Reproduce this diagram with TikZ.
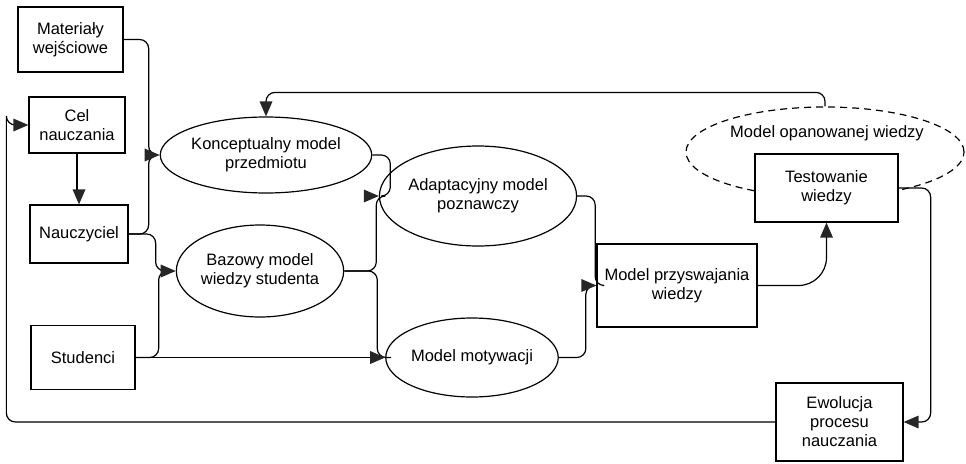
\documentclass[tikz,border=0pt]{standalone}
\usepackage{fontspec}
\setmainfont{Liberation Sans}
\usetikzlibrary{arrows.meta,shapes.geometric}
\begin{document}
\begin{tikzpicture}[x=1pt,y=-1pt,
  every node/.style={font=\fontsize{16.5}{19}\selectfont, align=center, inner sep=0pt},
  box/.style={draw, line width=1.3pt, rectangle, fill=white},
  ell/.style={draw, line width=1.2pt, ellipse},
  conn/.style={line width=1.2pt, rounded corners=9pt, shorten >=6pt},
  tipr/.style={fill=black!85, draw=none}]
\useasboundingbox (0,0) rectangle (966,463);
% nodes
\node[box, minimum width=105pt, minimum height=65pt] (mat) at (70.5,39.5) {Materiały\\wejściowe};
\node[box, minimum width=96pt, minimum height=56pt] (cel) at (77,125) {Cel\\nauczania};
\node[box, minimum width=98pt, minimum height=58pt] (nau) at (79,234) {Nauczyciel};
\node[box, minimum width=104pt, minimum height=64pt] (stu) at (83,357.5) {Studenci};
\node[ell, minimum width=188pt, minimum height=76pt] (kon) at (266,155) {Konceptualny model\\przedmiotu};
\node[ell, minimum width=156pt, minimum height=92pt] (baz) at (260,271) {Bazowy model\\wiedzy studenta};
\node[ell, minimum width=162pt, minimum height=100pt] (ada) at (478,196) {Adaptacyjny model\\poznawczy};
\node[ell, minimum width=141pt, minimum height=79pt] (mot) at (472,357.5) {Model motywacji};
\node[box, minimum width=160pt, minimum height=83pt] (prz) at (677,285.5) {Model przyswajania\\wiedzy};
\node[draw, line width=1.2pt, ellipse, dash pattern=on 7pt off 5pt, minimum width=278pt, minimum height=90pt] (mow) at (825,152) {};
\node (mowt) at (827,133) {Model opanowanej wiedzy};
\node[box, minimum width=143pt, minimum height=68pt] (tes) at (826.5,188) {Testowanie\\wiedzy};
\node[box, minimum width=127pt, minimum height=78pt] (ewo) at (839.5,422) {Ewolucja\\procesu\\nauczania};
% connectors
\draw[conn] (mat.east) -- ++(25,0) |- (kon.west);
\draw[conn] (nau.east) -- ++(20,0) |- (kon.west);
\draw[conn] (nau.east) -- ++(27,0) |- (baz.west);
\draw[conn] (stu.east) -- ++(23,0) |- (baz.west);
\draw[conn] (stu.east) -- (mot.west);
\draw[conn] (cel.south) -- (cel.south |- nau.north);
\draw[conn] (kon.east) -- ++(18,0) |- (ada.west);
\draw[conn] (baz.east) -- ++(32,0) |- (ada.west);
\draw[conn] (baz.east) -- ++(33,0) |- (mot.west);
\draw[conn] (ada.east) -- ++(18,0) |- (prz.west);
\draw[conn] (mot.east) -- ++(27,0) |- (prz.west);
\draw[conn, rounded corners=28pt] (prz.east) -| (tes.south);
\draw[conn] (tes.east) -- ++(32,0) |- (ewo.east);
\draw[conn] (ewo.west) -| ([xshift=-22pt]cel.west) |- (cel.west);
\draw[conn] (mow.north) -- ++(0,-14) -| (kon.north);
% arrow heads (pointing right / down / up / left)
\foreach \n in {kon.west, baz.west, ada.west, mot.west, prz.west, cel.west}
  \fill[tipr] (\n) -- ++(-15,-6.5) -- ++(0,13) -- cycle;
\foreach \n in {nau.north, kon.north}
  \fill[tipr] (\n) -- ++(-6.5,-15) -- ++(13,0) -- cycle;
\fill[tipr] (tes.south) -- ++(-6.5,15) -- ++(13,0) -- cycle;
\fill[tipr] (ewo.east) -- ++(15,-6.5) -- ++(0,13) -- cycle;
\end{tikzpicture}
\end{document}
